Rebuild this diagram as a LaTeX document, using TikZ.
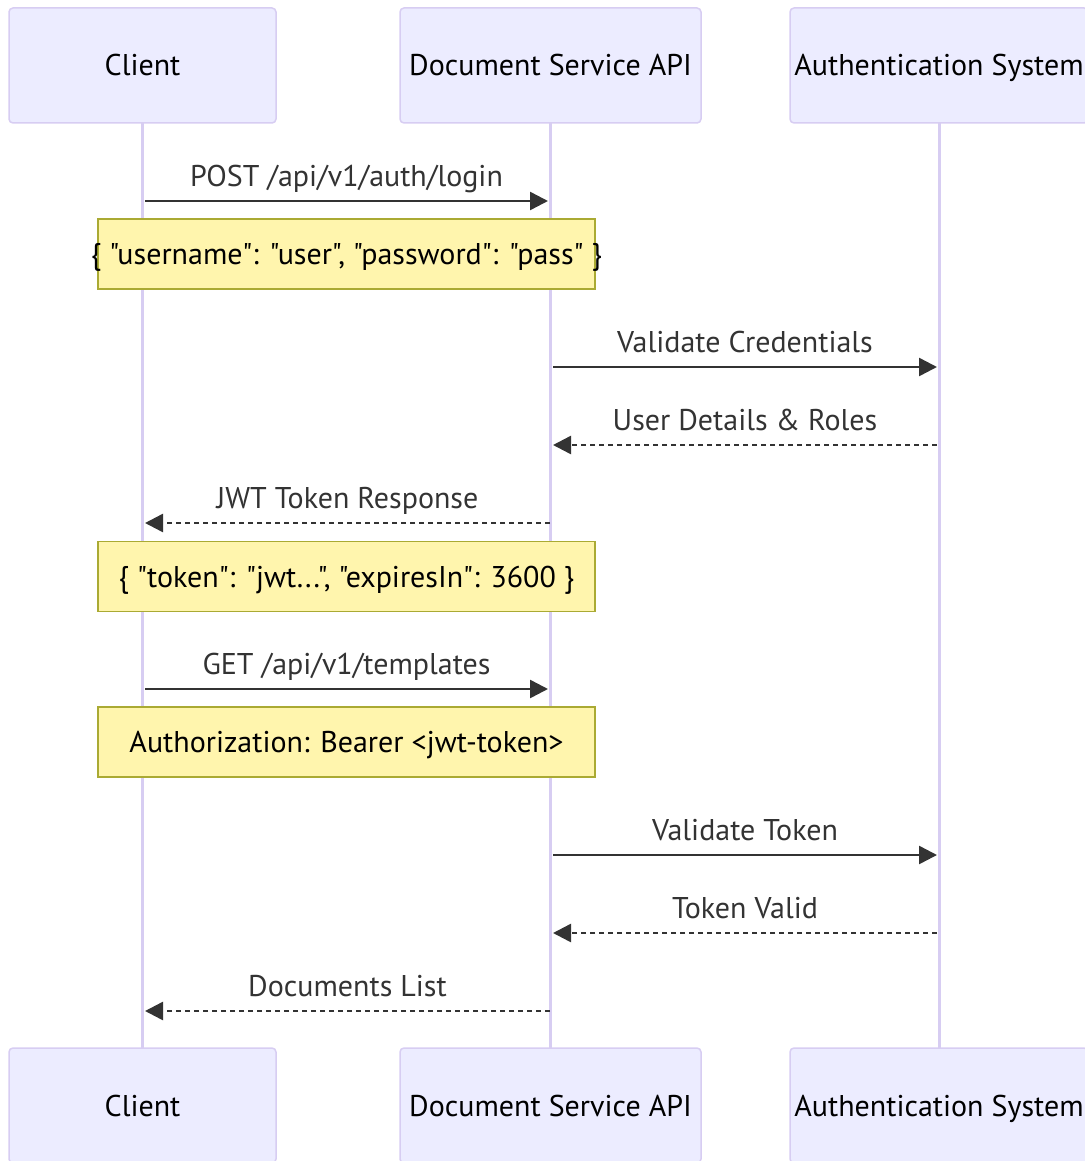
\documentclass[tikz,border=0pt]{standalone}
\usepackage{fontspec}
\setmainfont{PT Sans}[Ligatures=TeXOff]
\usepackage{tikz}
\usetikzlibrary{arrows.meta,positioning}
\definecolor{actfill}{HTML}{ECECFF}
\definecolor{actline}{HTML}{D7CDF2}
\definecolor{notefill}{HTML}{FFF5AD}
\definecolor{noteline}{HTML}{AAAA33}
\definecolor{msgcol}{HTML}{333333}
\tikzstyle{big}=[font=\fontsize{30}{36}\selectfont,text height=21pt,text depth=0pt]
\tikzstyle{actor}=[big,draw=actline,fill=actfill,rounded corners=4pt,line width=1.5pt,outer sep=0pt,inner sep=0pt,minimum height=115pt]
\tikzstyle{life}=[draw=actline,line width=3pt]
\tikzstyle{note}=[draw=noteline,fill=notefill,line width=1.5pt,outer sep=0pt,inner sep=0pt,minimum width=497pt,minimum height=70pt]
\tikzstyle{notetext}=[big,inner sep=0pt]
\tikzstyle{call}=[draw=msgcol,line width=2.5pt,-{Triangle[length=18pt,width=18pt]}]
\tikzstyle{reply}=[call,dash pattern=on 5pt off 4pt]
\tikzstyle{msg}=[midway,anchor=base,yshift=15pt,inner sep=0pt,text=msgcol,font=\fontsize{30}{36}\selectfont]

\begin{document}
\begin{tikzpicture}[x=1pt,y=-1pt]
  \useasboundingbox (0,0) rectangle (1084,1161);

  % actors, top and bottom
  \node[actor,minimum width=267pt] (cli) at (142.5,65.5) {Client};
  \node[actor,minimum width=301pt] (api) [right=124pt of cli] {Document Service API};
  \node[actor,minimum width=298pt] (aut) [right=89pt of api] {Authentication System};
  \node[actor,minimum width=267pt] (cli2) [below=925pt of cli] {Client};
  \node[actor,minimum width=301pt] (api2) [below=925pt of api] {Document Service API};
  \node[actor,minimum width=298pt] (aut2) [below=925pt of aut] {Authentication System};

  % lifelines
  \path (cli) edge[life] (cli2)
        (api) edge[life] (api2)
        (aut) edge[life] (aut2);

  % message ends
  \coordinate (m1s) at (145,201);   \coordinate (m1e) at (548,201);
  \coordinate (m2s) at (553,367);   \coordinate (m2e) at (937,367);
  \coordinate (m3s) at (937,445);   \coordinate (m3e) at (553,445);
  \coordinate (m4s) at (550,523);   \coordinate (m4e) at (145,523);
  \coordinate (m5s) at (145,689);   \coordinate (m5e) at (548,689);
  \coordinate (m6s) at (553,855);   \coordinate (m6e) at (937,855);
  \coordinate (m7s) at (937,933);   \coordinate (m7e) at (553,933);
  \coordinate (m8s) at (550,1011);  \coordinate (m8e) at (145,1011);

  % notes
  \node[note,label={[notetext]center:\{ "username": "user", "password": "pass" \}}] (n1) at (346.5,254) {};
  \node[note,label={[notetext]center:\{ "token": "jwt...", "expiresIn": 3600 \}}] (n2) at (346.5,576.5) {};
  \node[note,label={[notetext]center:Authorization: Bearer <jwt-token>}] (n3) at (346.5,742) {};

  % messages
  \path (m1s) edge[call] node[msg] {POST /api/v1/auth/login} (m1e)
        (m2s) edge[call] node[msg] {Validate Credentials} (m2e)
        (m3s) edge[reply] node[msg] {User Details \& Roles} (m3e)
        (m4s) edge[reply] node[msg] {JWT Token Response} (m4e)
        (m5s) edge[call] node[msg] {GET /api/v1/templates} (m5e)
        (m6s) edge[call] node[msg] {Validate Token} (m6e)
        (m7s) edge[reply] node[msg] {Token Valid} (m7e)
        (m8s) edge[reply] node[msg] {Documents List} (m8e);
\end{tikzpicture}
\end{document}
